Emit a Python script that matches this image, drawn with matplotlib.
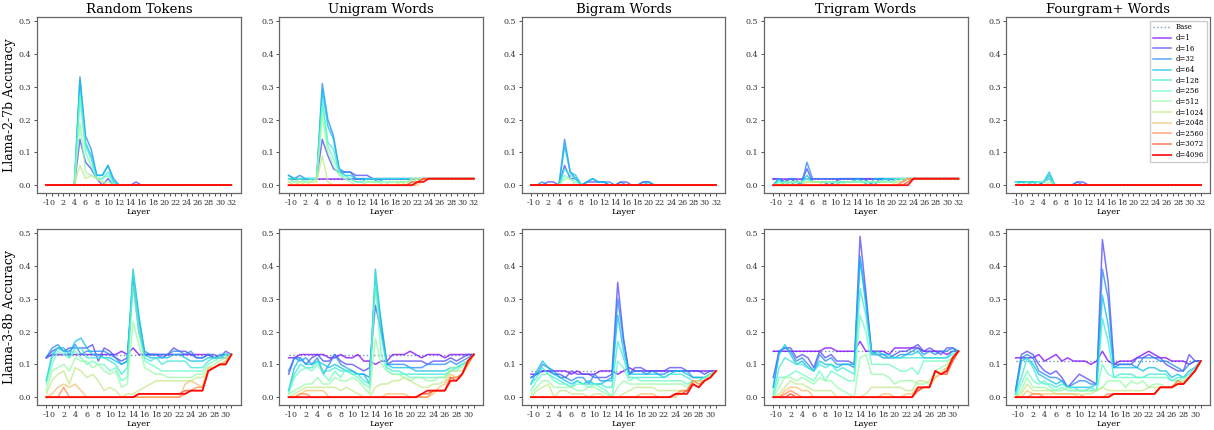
import numpy as np
import matplotlib
matplotlib.use("Agg")
import matplotlib.pyplot as plt

# ---------------- data ----------------
dims = ["d=1", "d=16", "d=32", "d=64", "d=128", "d=256", "d=512",
        "d=1024", "d=2048", "d=2560", "d=3072", "d=4096"]
titles = ["Random Tokens", "Unigram Words", "Bigram Words", "Trigram Words", "Fourgram+ Words"]
row_labels = ["Llama-2-7b Accuracy", "Llama-3-8b Accuracy"]
layers_l2 = list(range(-1, 33))
layers_l3 = list(range(-1, 32))

Z10 = [0, 0, 0, 0, 0, 0, 0, 0, 0, 0]
Z4 = [0, 0, 0, 0]
T10 = [.02, .02, .02, .02, .02, .02, .02, .02, .02, .02]
T4 = [.02, .02, .02, .02]

# Llama-2-7b, layers -1..32
base_l2 = [0.0, 0.02, 0.0, 0.02, 0.0]

l2_random = [
    Z10 + Z10 + Z10 + Z4,
    [0, 0, 0, 0, 0, 0, .14, .07, .05, .02] + [0, .02, 0, 0, 0, 0, .01, 0, 0, 0] + Z10 + Z4,
    [0, 0, 0, 0, 0, 0, .33, .15, .11, .03] + [.03, .06, .02, 0, 0, 0, 0, 0, 0, 0] + Z10 + Z4,
    [0, 0, 0, 0, 0, 0, .32, .13, .09, .03] + [.03, .06, .01, 0, 0, 0, 0, 0, 0, 0] + Z10 + Z4,
    [0, 0, 0, 0, 0, 0, .28, .12, .08, .02] + [.02, .04, .01, 0, 0, 0, 0, 0, 0, 0] + Z10 + Z4,
    [0, 0, 0, 0, 0, 0, .27, .10, .06, .02] + [.02, .03, 0, 0, 0, 0, 0, 0, 0, 0] + Z10 + Z4,
    [0, 0, 0, 0, 0, 0, .19, .04, .03, .02] + [.01, .01, 0, 0, 0, 0, 0, 0, 0, 0] + Z10 + Z4,
    [0, 0, 0, 0, 0, 0, .06, .02, .03, .02] + [.01, 0, 0, 0, 0, 0, 0, 0, 0, 0] + Z10 + Z4,
    Z10 + Z10 + Z10 + Z4,
    Z10 + Z10 + Z10 + Z4,
    Z10 + Z10 + Z10 + Z4,
    Z10 + Z10 + Z10 + Z4,
]

l2_unigram = [
    T10 + T10 + T10 + T4,
    [.02, .02, .02, .02, .02, .02, .14, .09, .05, .04] + [.04, .04, .03, .03, .03, .02, .02, .02, .02, .02] + T10 + T4,
    [.03, .02, .03, .02, .02, .02, .31, .20, .15, .05] + [.04, .04, .02, .02, .02, .02, .02, .02, .02, .02] + T10 + T4,
    [.03, .02, .02, .02, .02, .02, .29, .18, .14, .05] + [.03, .03, .02, .02, .02, .02, .01, .02, .02, .02] + T10 + T4,
    [.02, .02, .02, .02, .02, .02, .26, .13, .11, .04] + [.03, .02, .01, .01, .02, .02, .02, .02, .02, .02] + T10 + T4,
    [.02, .01, .02, .01, .02, .02, .24, .12, .08, .04] + [.02, .02, .01, .01, .01, .01, .01, .01, .01, .01] + [.01, .01, .02, .02, .02, .02, .02, .02, .02, .02] + T4,
    [.01, .01, .01, .01, .01, .02, .21, .10, .06, .03] + [.02, .01, 0, 0, .01, .01, .01, 0, .01, .01] + [.01, .01, .01, .02, .02, .02, .02, .02, .02, .02] + T4,
    [.01, 0, .01, 0, .01, .01, .09, .01, 0, 0] + Z10 + [.01, 0, .02, .02, .02, .02, .02, .02, .02, .02] + T4,
    Z10 + Z10 + [0, 0, 0, 0, .02, .02, .02, .02, .02, .02] + T4,
    Z10 + Z10 + [0, 0, 0, .01, .02, .02, .02, .02, .02, .02] + T4,
    Z10 + Z10 + [0, 0, .01, .01, .02, .02, .02, .02, .02, .02] + T4,
    Z10 + Z10 + [0, 0, 0, .01, .01, .02, .02, .02, .02, .02] + T4,
]

l2_bigram = [
    Z10 + Z10 + Z10 + Z4,
    [0, 0, 0, .01, .01, 0, .06, .02, .02, 0] + [.01, .01, .01, .01, 0, 0, .01, .01, 0, 0] + [.01, .01, 0, 0, 0, 0, 0, 0, 0, 0] + Z4,
    [0, 0, .01, 0, 0, 0, .14, .04, .02, 0] + [.01, .02, .01, .01, .01, 0, .01, 0, 0, 0] + [.01, .01, 0, 0, 0, 0, 0, 0, 0, 0] + Z4,
    [0, 0, 0, 0, 0, 0, .12, .04, .03, 0] + [.01, .02, .01, .01, 0, 0, 0, 0, 0, 0] + [0, .01, 0, 0, 0, 0, 0, 0, 0, 0] + Z4,
    [0, 0, 0, 0, 0, 0, .05, .03, .02, 0] + Z10 + Z10 + Z4,
    [0, 0, 0, 0, 0, 0, .03, .02, .01, 0] + Z10 + Z10 + Z4,
    [0, 0, 0, 0, 0, 0, .02, .02, 0, 0] + Z10 + Z10 + Z4,
    Z10 + Z10 + Z10 + Z4,
    Z10 + Z10 + Z10 + Z4,
    Z10 + Z10 + Z10 + Z4,
    Z10 + Z10 + Z10 + Z4,
    Z10 + Z10 + Z10 + Z4,
]

l2_trigram = [
    T10 + T10 + T10 + T4,
    [.02, .02, .01, .02, .01, .01, .05, .01, .01, .01] + [0, .01, .02, .02, .02, .02, .02, .02, .02, .02] + T10 + T4,
    [0, .02, .01, .02, .02, 0, .07, .02, .02, .02] + [.02, .02, .02, .02, .02, .02, .02, .01, 0, .02] + T10 + T4,
    [0, .02, 0, .01, 0, .01, .03, .01, .01, .01] + [.01, 0, .01, .01, .01, .02, .01, 0, .02, .02] + [.02, .01, .02, .02, .02, .02, .02, .02, .02, .02] + T4,
    [0, .01, .01, .01, .01, .01, .02, .01, .01, .01] + [.01, .01, .01, .01, .01, .01, .01, .01, .01, .01] + T10 + T4,
    [0, .01, 0, .01, .01, .01, .02, .01, .01, .01] + [.01, .01, .01, .01, .01, .01, .01, .01, .01, .01] + [.01, .01, .02, .02, .02, .02, .02, .02, .02, .02] + T4,
    [0, 0, .01, .01, .01, .01, .01, .01, .01, .01] + [.01, .01, 0, .01, .01, .01, .01, .01, .01, .01] + [.01, .01, .01, .02, .02, .02, .02, .02, .02, .02] + T4,
    [0, 0, 0, 0, 0, 0, .01, .01, .01, 0] + Z10 + [0, 0, .01, .01, .02, .02, .02, .02, .02, .02] + T4,
    Z10 + Z10 + [0, 0, 0, .01, .02, .02, .02, .02, .02, .02] + T4,
    Z10 + Z10 + [0, 0, 0, .01, .02, .02, .02, .02, .02, .02] + T4,
    Z10 + Z10 + [0, 0, 0, 0, .01, .02, .02, .02, .02, .02] + T4,
    Z10 + Z10 + [0, 0, 0, 0, 0, .02, .02, .02, .02, .02] + T4,
]

l2_fourgram = [
    Z10 + Z10 + Z10 + Z4,
    [.01, .01, .01, 0, 0, .01, .02, 0, 0, 0] + [0, .01, .01, 0, 0, 0, 0, 0, 0, 0] + Z10 + Z4,
    [.01, .01, .01, .01, 0, .01, .03, 0, 0, 0] + [0, .01, 0, 0, 0, 0, 0, 0, 0, 0] + Z10 + Z4,
    [.01, .01, .01, .01, .01, .01, .04, 0, 0, 0] + Z10 + Z10 + Z4,
    [.01, .01, .01, .01, .01, .01, .03, 0, 0, 0] + Z10 + Z10 + Z4,
    [.01, 0, .01, 0, .01, .01, .02, 0, 0, 0] + Z10 + Z10 + Z4,
    [0, 0, 0, 0, 0, 0, .01, 0, 0, 0] + Z10 + Z10 + Z4,
    Z10 + Z10 + Z10 + Z4,
    Z10 + Z10 + Z10 + Z4,
    Z10 + Z10 + Z10 + Z4,
    Z10 + Z10 + Z10 + Z4,
    Z10 + Z10 + Z10 + Z4,
]

# Llama-3-8b, layers -1..31
base_l3 = [0.13, 0.13, 0.08, 0.14, 0.11]

l3_random = [
    [.12, .13, .13, .13, .13, .13, .13, .13, .13, .13] + [.13, .13, .13, .14, .13, .15, .13, .13, .13, .13] + [.13, .13, .13, .13, .13, .13, .13, .13, .13, .12] + [.12, .12, .13],
    [.12, .14, .15, .14, .15, .15, .15, .15, .16, .11] + [.15, .14, .12, .11, .12, .35, .20, .13, .13, .13] + [.12, .13, .15, .14, .14, .13, .12, .12, .13, .13] + [.12, .14, .13],
    [.12, .15, .16, .14, .14, .16, .13, .14, .14, .14] + [.14, .13, .12, .10, .11, .37, .24, .14, .13, .13] + [.13, .13, .14, .14, .13, .14, .12, .12, .13, .12] + [.13, .13, .13],
    [.05, .13, .15, .15, .13, .17, .18, .15, .13, .13] + [.12, .12, .11, .10, .11, .39, .25, .13, .12, .12] + [.12, .12, .13, .13, .12, .11, .11, .11, .12, .12] + [.12, .13, .13],
    [.05, .12, .15, .14, .12, .15, .15, .12, .12, .12] + [.12, .11, .10, .07, .09, .38, .22, .12, .11, .12] + [.10, .11, .11, .11, .11, .09, .09, .09, .11, .12] + [.12, .13, .13],
    [.04, .10, .14, .13, .12, .14, .12, .10, .11, .10] + [.10, .08, .09, .05, .06, .34, .20, .11, .10, .09] + [.08, .08, .08, .08, .08, .08, .08, .08, .10, .11] + [.12, .12, .13],
    [.02, .08, .09, .10, .08, .12, .11, .11, .09, .10] + [.08, .07, .08, .03, .04, .23, .16, .09, .08, .07] + [.07, .06, .06, .06, .06, .06, .07, .07, .09, .10] + [.11, .12, .13],
    [.01, .05, .07, .08, .04, .09, .08, .06, .07, .05] + [.02, .03, .02, 0, .01, .01, .02, .03, .04, .05] + [.05, .05, .05, .05, .05, .05, .06, .06, .08, .09] + [.10, .11, .13],
    [0, .01, .03, .04, .03, .04, .02, 0, 0, 0] + Z10 + [0, 0, 0, 0, .04, .05, .04, .03, .09, .09] + [.10, .11, .13],
    [0, 0, 0, .03, 0, 0, 0, 0, 0, 0] + Z10 + [0, 0, 0, 0, .01, .02, .03, .03, .08, .09] + [.10, .10, .13],
    Z10 + [0, 0, 0, 0, 0, 0, .01, .01, .01, .01] + [.01, .01, .01, .01, .02, .02, .02, .02, .08, .09] + [.10, .10, .13],
    Z10 + [0, 0, 0, 0, 0, 0, .01, .01, .01, .01] + [.01, .01, .01, .01, .01, .02, .02, .02, .08, .09] + [.10, .10, .13],
]

l3_unigram = [
    [.12, .12, .13, .13, .13, .13, .13, .12, .12, .13] + [.12, .12, .13, .11, .11, .10, .11, .11, .13, .13] + [.13, .14, .13, .12, .13, .13, .13, .12, .13, .13] + [.13, .13, .13],
    [.07, .12, .12, .10, .12, .13, .11, .11, .13, .11] + [.10, .10, .09, .08, .09, .28, .20, .10, .11, .11] + [.11, .11, .11, .11, .10, .11, .11, .11, .12, .11] + [.12, .13, .13],
    [.08, .12, .11, .12, .10, .12, .07, .10, .13, .10] + [.09, .08, .07, .07, .06, .35, .23, .10, .10, .10] + [.10, .09, .09, .09, .10, .10, .10, .10, .11, .10] + [.11, .12, .13],
    [.02, .09, .12, .10, .10, .11, .10, .09, .10, .09] + [.08, .08, .07, .07, .04, .39, .22, .10, .09, .09] + [.09, .09, .08, .08, .08, .08, .08, .08, .09, .09] + [.10, .11, .13],
    [.02, .07, .10, .09, .09, .11, .08, .08, .09, .08] + [.08, .07, .07, .05, .04, .37, .19, .09, .08, .08] + [.07, .07, .07, .07, .07, .07, .07, .07, .08, .09] + [.10, .11, .13],
    [.01, .06, .08, .09, .08, .10, .07, .05, .08, .06] + [.09, .07, .06, .04, .03, .34, .13, .08, .07, .07] + [.07, .06, .06, .06, .06, .06, .06, .06, .08, .08] + [.10, .11, .13],
    [.01, .02, .03, .04, .04, .06, .04, .04, .06, .05] + [.05, .06, .05, .03, .01, .18, .10, .08, .07, .07] + [.06, .05, .06, .06, .05, .05, .06, .06, .09, .09] + [.09, .11, .13],
    [0, .01, .02, .03, .03, .03, .03, .03, .03, .02] + [.03, .02, .01, 0, 0, .03, .04, .04, .05, .05] + [.06, .05, .04, .03, .03, .04, .04, .05, .08, .08] + [.08, .10, .13],
    [0, 0, .01, .02, .02, .02, .02, 0, 0, 0] + [0, 0, 0, 0, 0, 0, 0, .01, .01, .01] + [.01, 0, 0, 0, 0, .01, .03, .04, .07, .06] + [.07, .10, .13],
    [0, 0, .01, .01, 0, 0, 0, 0, 0, 0] + Z10 + [0, 0, 0, 0, 0, .02, .02, .02, .06, .06] + [.07, .10, .13],
    Z10 + Z10 + [0, 0, 0, .01, .01, .02, .02, .02, .06, .05] + [.07, .11, .13],
    Z10 + Z10 + [0, 0, 0, .01, .02, .02, .02, .02, .05, .05] + [.07, .11, .13],
]

l3_bigram = [
    [.07, .07, .08, .08, .08, .08, .08, .07, .08, .07] + [.07, .07, .08, .08, .08, .07, .08, .09, .08, .08] + [.08, .08, .08, .08, .08, .08, .08, .08, .08, .08] + [.08, .08, .08],
    [.06, .07, .08, .08, .07, .07, .06, .08, .07, .07] + [.07, .06, .06, .06, .07, .35, .18, .07, .09, .09] + [.08, .08, .08, .08, .09, .09, .09, .08, .08, .08] + [.07, .08, .08],
    [.06, .07, .10, .09, .08, .06, .06, .05, .06, .06] + [.04, .07, .05, .05, .06, .30, .17, .07, .08, .08] + [.07, .08, .07, .07, .08, .08, .08, .08, .06, .06] + [.06, .07, .08],
    [.04, .08, .11, .09, .07, .06, .05, .04, .05, .04] + [.05, .04, .04, .05, .05, .25, .14, .07, .07, .07] + [.07, .07, .07, .06, .07, .08, .08, .07, .06, .06] + [.06, .07, .08],
    [.04, .06, .09, .07, .06, .05, .04, .03, .05, .04] + [.04, .04, .04, .03, .03, .17, .12, .06, .06, .06] + [.06, .06, .06, .06, .07, .07, .07, .06, .05, .05] + [.06, .07, .08],
    [.02, .05, .07, .07, .05, .04, .04, .03, .04, .04] + [.03, .04, .03, .02, 0, .11, .09, .05, .06, .05] + [.05, .05, .05, .05, .05, .05, .05, .04, .05, .05] + [.06, .07, .08],
    [.01, .03, .05, .05, .03, .03, .03, .03, .02, .02] + [.03, .03, .02, .01, 0, .03, .05, .04, .04, .04] + [.04, .04, .04, .04, .04, .04, .04, .03, .05, .05] + [.05, .07, .08],
    [0, .02, .03, .04, 0, .02, .02, .01, .01, .01] + [0, .01, .01, 0, 0, 0, .01, .02, .03, .03] + [.03, .03, .02, .02, .02, .02, .02, .02, .05, .04] + [.05, .06, .08],
    Z10 + [0, 0, 0, 0, 0, 0, 0, 0, 0, .01] + [.01, .01, 0, 0, 0, 0, .02, .02, .05, .05] + [.05, .06, .08],
    Z10 + Z10 + [0, 0, 0, 0, 0, .01, .02, .02, .05, .04] + [.05, .06, .08],
    Z10 + Z10 + [0, 0, 0, 0, 0, .01, .01, .02, .04, .03] + [.05, .06, .08],
    Z10 + Z10 + [0, 0, 0, 0, 0, .01, .01, .01, .04, .03] + [.05, .06, .08],
]

l3_trigram = [
    [.14, .14, .14, .14, .14, .14, .14, .14, .14, .15] + [.15, .14, .14, .14, .14, .17, .14, .14, .14, .14] + [.13, .15, .15, .15, .15, .15, .14, .14, .14, .14] + [.13, .14, .14],
    [.06, .14, .15, .15, .12, .13, .12, .09, .14, .12] + [.13, .11, .11, .11, .10, .49, .32, .13, .13, .12] + [.12, .13, .14, .14, .15, .16, .14, .15, .14, .13] + [.15, .15, .14],
    [.03, .14, .15, .14, .11, .12, .10, .08, .13, .11] + [.12, .10, .10, .10, .09, .43, .30, .14, .13, .13] + [.12, .12, .13, .13, .14, .15, .13, .14, .13, .14] + [.14, .15, .14],
    [.03, .13, .16, .13, .10, .11, .09, .08, .11, .10] + [.10, .09, .10, .10, .10, .42, .28, .13, .14, .13] + [.13, .12, .12, .13, .13, .14, .12, .12, .12, .12] + [.12, .14, .14],
    [.01, .09, .12, .11, .10, .10, .09, .08, .10, .09] + [.10, .08, .09, .08, .07, .33, .25, .13, .13, .12] + [.12, .12, .12, .12, .12, .12, .12, .12, .12, .12] + [.12, .13, .14],
    [0, .06, .06, .07, .08, .07, .06, .05, .08, .05] + [.08, .07, .06, .05, .05, .25, .20, .10, .10, .10] + [.10, .09, .08, .08, .09, .07, .11, .11, .11, .11] + [.11, .12, .14],
    [0, .03, .06, .06, .05, .06, .05, .04, .06, .05] + [.05, .03, .02, .01, 0, .12, .13, .07, .07, .07] + [.06, .04, .05, .05, .05, .04, .04, .05, .08, .09] + [.10, .12, .14],
    [0, .01, .03, .05, .04, .04, .03, .02, .02, .02] + [.02, 0, 0, 0, 0, 0, .01, .03, .03, .03] + [.03, .03, .03, .02, .02, .05, .05, .04, .06, .08] + [.09, .12, .14],
    [0, 0, .02, .03, .03, .02, .02, 0, 0, 0] + [0, 0, 0, 0, 0, 0, 0, 0, 0, .01] + [.01, 0, 0, .01, .01, .03, .03, .03, .06, .07] + [.09, .11, .14],
    [0, 0, .01, .02, .01, 0, 0, 0, 0, 0] + Z10 + [0, 0, 0, 0, 0, .02, .03, .03, .08, .07] + [.08, .11, .14],
    [0, 0, 0, .01, 0, 0, 0, 0, 0, 0] + Z10 + [0, 0, 0, 0, 0, .02, .03, .03, .08, .07] + [.07, .11, .14],
    Z10 + Z10 + [0, 0, 0, 0, 0, .03, .03, .03, .08, .07] + [.08, .12, .14],
]

l3_fourgram = [
    [.12, .12, .12, .12, .13, .11, .12, .13, .11, .12] + [.11, .11, .11, .10, .11, .14, .11, .10, .11, .11] + [.11, .12, .13, .14, .13, .12, .12, .11, .11, .11] + [.10, .11, .11],
    [.02, .13, .14, .13, .10, .08, .07, .08, .06, .03] + [.05, .07, .06, .05, .04, .48, .35, .10, .10, .10] + [.10, .12, .12, .13, .12, .12, .10, .09, .08, .08] + [.13, .11, .11],
    [.02, .12, .13, .12, .08, .07, .06, .06, .05, .03] + [.04, .05, .05, .04, .04, .39, .30, .09, .10, .10] + [.10, .09, .12, .12, .12, .11, .11, .10, .09, .08] + [.10, .11, .11],
    [.01, .11, .12, .10, .07, .06, .05, .04, .05, .03] + [.03, .03, .03, .03, .04, .31, .22, .09, .09, .09] + [.09, .09, .08, .09, .09, .08, .08, .06, .07, .06] + [.08, .09, .11],
    [.01, .06, .12, .09, .05, .04, .04, .03, .04, .03] + [.03, .02, .02, .03, .02, .24, .17, .06, .07, .07] + [.07, .06, .06, .07, .07, .07, .07, .05, .06, .06] + [.07, .09, .11],
    [0, .04, .08, .05, .04, .05, .03, .02, .03, .02] + [.02, .02, .02, .02, .02, .10, .07, .06, .06, .06] + [.06, .06, .06, .06, .06, .06, .06, .05, .05, .06] + [.06, .08, .11],
    [0, .02, .06, .03, .03, .03, .02, .02, .02, .03] + [.02, .02, .02, .02, .02, .03, .05, .05, .05, .03] + [.05, .04, .05, .03, .04, .04, .03, .03, .05, .05] + [.06, .08, .11],
    [0, .01, .04, .02, .02, .02, .02, .01, .01, .01] + [.01, 0, .01, .01, .02, .03, .02, .02, .02, .02] + [.02, .02, .02, .03, .03, .03, .03, .03, .04, .05] + [.06, .08, .11],
    [0, 0, .02, .01, .01, .01, .01, .01, .01, .01] + [.01, .01, 0, 0, 0, 0, 0, .01, .01, .01] + [.01, .01, .01, .01, .01, .03, .03, .03, .05, .04] + [.06, .08, .11],
    [0, 0, 0, .01, .01, 0, 0, 0, 0, 0] + [0, 0, 0, 0, 0, 0, .01, .01, .01, .01] + [.01, .01, .01, .01, .01, .03, .03, .03, .05, .04] + [.06, .08, .11],
    Z10 + [0, 0, 0, 0, 0, 0, 0, .01, .01, .01] + [.01, .01, .01, .01, .01, .03, .03, .03, .04, .04] + [.06, .08, .11],
    Z10 + [0, 0, 0, 0, 0, 0, 0, .01, .01, .01] + [.01, .01, .01, .01, .01, .03, .03, .03, .04, .04] + [.06, .08, .11],
]

rows = [
    (layers_l2, base_l2, [l2_random, l2_unigram, l2_bigram, l2_trigram, l2_fourgram]),
    (layers_l3, base_l3, [l3_random, l3_unigram, l3_bigram, l3_trigram, l3_fourgram]),
]

# ---------------- plot ----------------
plt.rcParams["font.family"] = ["DejaVu Serif"]
colors = plt.cm.rainbow(np.linspace(0, 1, len(dims)))

fig, axes = plt.subplots(2, 5, figsize=(12.14, 4.30), dpi=100)
fig.subplots_adjust(left=0.0305, right=0.9967, top=0.960, bottom=0.058,
                    wspace=0.19, hspace=0.205)

for r, (layers, bases, panels) in enumerate(rows):
    for c, series in enumerate(panels):
        ax = axes[r, c]
        ax.plot(layers, [bases[c]] * len(layers), linestyle=":", color="steelblue",
                lw=1.0, alpha=0.8, label="Base")
        for k, vals in enumerate(series):
            ax.plot(layers, vals, color=colors[k], lw=1.1 if k < 11 else 1.3,
                    alpha=0.75 if k < 11 else 0.9, label=dims[k])
        ax.set_ylim(-0.024, 0.512)
        ax.set_yticks([0.0, 0.1, 0.2, 0.3, 0.4, 0.5])
        ax.set_xticks(layers)
        ax.set_xticklabels([str(v) if (v == -1 or v % 2 == 0) else "" for v in layers])
        ax.tick_params(axis="both", labelsize=5.8, length=2.5, width=0.6,
                       colors="#333333", pad=1.5)
        ax.set_xlabel("Layer", fontsize=6, labelpad=1)
        for s in ax.spines.values():
            s.set_color("#666666")
            s.set_linewidth(0.9)
        if r == 0:
            ax.set_title(titles[c], fontsize=9.5, pad=3)
        if c == 0:
            ax.set_ylabel(row_labels[r], fontsize=9, labelpad=2)

axes[0, 4].legend(loc="upper right", fontsize=5, handlelength=2.6,
                  labelspacing=0.38, borderpad=0.4, handletextpad=0.6,
                  framealpha=1, edgecolor="#cccccc", fancybox=False)

fig.savefig("out.png", dpi=100)
